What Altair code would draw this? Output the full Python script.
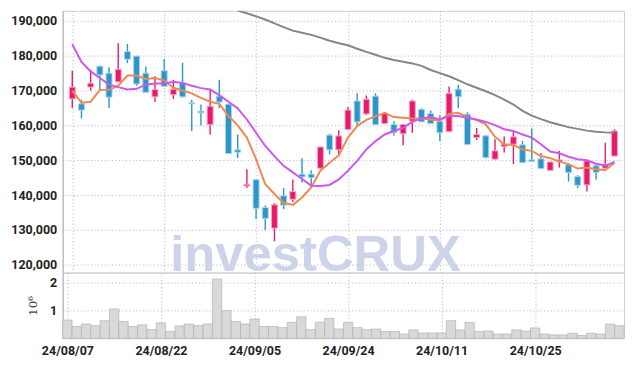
import altair as alt
import pandas as pd

# ---------------- data ----------------
dates = ["24/08/07", "24/08/08", "24/08/09", "24/08/12", "24/08/13", "24/08/14", "24/08/16", "24/08/19",
         "24/08/20", "24/08/21", "24/08/22", "24/08/23", "24/08/26", "24/08/27", "24/08/28", "24/08/29",
         "24/08/30", "24/09/02", "24/09/03", "24/09/04", "24/09/05", "24/09/06", "24/09/09", "24/09/10",
         "24/09/11", "24/09/12", "24/09/13", "24/09/19", "24/09/20", "24/09/23", "24/09/24", "24/09/25",
         "24/09/26", "24/09/27", "24/09/30", "24/10/02", "24/10/04", "24/10/07", "24/10/08", "24/10/10",
         "24/10/11", "24/10/14", "24/10/15", "24/10/16", "24/10/17", "24/10/18", "24/10/21", "24/10/22",
         "24/10/23", "24/10/24", "24/10/25", "24/10/28", "24/10/29", "24/10/30", "24/10/31", "24/11/01",
         "24/11/04", "24/11/05", "24/11/06", "24/11/07"]

opens = [167600, 166200, 171000, 177000, 175000, 172500, 181200, 179900, 175000, 168200,
         175700, 168800, 172200, 166500, 164100, 160200, 168400, 166100, 153000, 142600,
         144400, 136400, 130500, 139800, 138800, 146000, 146000, 147700, 157200, 153000,
         158800, 167000, 163300, 168400, 160500, 160300, 157600, 161200, 164600, 163400,
         161200, 158200, 170400, 163200, 156500, 157000, 150300, 153900, 154600, 154400,
         150100, 150400, 147100, 149500, 148700, 145300, 142900, 148400, 147700, 151200]
highs = [175700, 167400, 176000, 177100, 176700, 183600, 183400, 180000, 176900, 174100,
         179100, 173100, 178000, 167400, 166000, 170500, 173100, 166200, 157400, 147400,
         144400, 137000, 137700, 142000, 144500, 150600, 147100, 153900, 157600, 158600,
         165300, 169200, 168600, 169200, 163800, 161200, 160300, 167400, 164900, 164300,
         162900, 171200, 171700, 163800, 159300, 157200, 156000, 156800, 158700, 155500,
         159100, 152100, 149600, 152700, 149200, 145700, 149900, 149100, 155000, 158900]
lows = [165000, 162000, 170000, 170000, 165000, 172400, 177900, 171400, 169500, 166700,
        171000, 167600, 168000, 158400, 160000, 157400, 165000, 151800, 150600, 142000,
        133100, 130000, 126700, 136000, 138000, 143600, 142400, 147400, 151700, 151700,
        158700, 160000, 163000, 160100, 160400, 157000, 154300, 157900, 161000, 160400,
        155500, 158100, 164900, 154400, 155800, 150500, 150200, 152200, 148900, 149300,
        149500, 147600, 147100, 147900, 143900, 142000, 141000, 144400, 147600, 151200]
closes = [171000, 164400, 172100, 174500, 168100, 176100, 179000, 171900, 169500, 170300,
          171200, 170400, 168200, 166200, 163600, 165500, 166700, 151900, 152300, 143100,
          136200, 133300, 137200, 137100, 141000, 145200, 145000, 153800, 153000, 157000,
          164400, 161000, 167500, 160200, 163400, 157900, 160300, 167000, 161000, 160500,
          157900, 169200, 168200, 154500, 157400, 150800, 152700, 154600, 156700, 149300,
          149600, 147600, 149500, 150100, 146500, 142800, 149800, 146500, 148900, 158400]
volumes = [650000, 420000, 510000, 450000, 630000, 1050000, 600000, 420000, 480000, 310000,
           550000, 240000, 440000, 510000, 450000, 510000, 2120000, 990000, 600000, 510000,
           690000, 420000, 420000, 380000, 570000, 770000, 310000, 570000, 710000, 330000,
           570000, 380000, 310000, 330000, 240000, 240000, 150000, 300000, 190000, 190000,
           190000, 630000, 300000, 570000, 240000, 260000, 150000, 150000, 300000, 260000,
           370000, 150000, 120000, 120000, 180000, 100000, 180000, 150000, 510000, 450000]
ma5 = [170000, 166500, 166800, 170200, 170200, 171400, 174300, 174300, 173300, 173600,
       172900, 170800, 170000, 169200, 167900, 166800, 166200, 162700, 160000, 156500,
       150300, 143100, 140300, 137700, 137200, 139300, 142200, 147000, 149300, 151400,
       156500, 159800, 161600, 162600, 163600, 162400, 162200, 162000, 162000, 161700,
       161400, 163300, 163600, 162400, 161500, 160300, 156700, 154600, 154400, 153100,
       152700, 151200, 150600, 149600, 148900, 147600, 147900, 147400, 147100, 149300]
ma20 = [183300, 178200, 175500, 173600, 171700, 171000, 170300, 170500, 171700, 172000,
        172000, 172500, 172200, 171400, 170700, 170300, 168700, 166800, 164900, 161700,
        157900, 154100, 151200, 148400, 146500, 144600, 142700, 142600, 142900, 144500,
        147000, 149800, 153100, 155500, 157400, 158400, 159300, 161000, 162000, 162400,
        161700, 162700, 162700, 162200, 161700, 161000, 160100, 158900, 158400, 157400,
        156500, 154600, 152500, 152000, 151000, 150300, 150000, 149000, 148400, 149500]
ma60 = [None] * 18 + [
        192950, 192200, 191300, 190400, 189300, 188200, 187200, 186600, 186000,
        185200, 184300, 183600, 183000, 182000, 181100, 180300, 179400, 178800, 178300,
        177800, 177100, 175900, 175000, 174100, 173000, 171800, 170800, 169800, 168700,
        167400, 166000, 164200, 162800, 161800, 160900, 160200, 159500, 159000, 158500,
        158200, 158000, 157900]
price_ticks = [120000, 130000, 140000, 150000, 160000, 170000, 180000, 190000]
volume_ticks = [1000000, 2000000]
label_idx = [0, 10, 20, 30, 40, 50]
watermark = ["investCRUX"]

# ---------------- chart ----------------
n = len(dates)
df = pd.DataFrame({"i": list(range(n)), "date": dates, "open": opens, "high": highs, "low": lows,
                   "close": closes, "volume": volumes, "ma5": ma5, "ma20": ma20, "ma60": ma60})

FONT = "Roboto"
LSIZE = 12.5
LCOL = "#222222"
PINK = "#e61b6c"
BLUE = "#2c96c8"
GRID = "#a9b0cc"
GDASH = [1, 2.5]
W = 564
H_PRICE = 263
H_VOL = 66

label_expr = " : ".join(f"datum.value == {k} ? '{dates[k]}'" for k in label_idx) + " : ''"

xscale = alt.Scale(domain=[-0.5, n - 0.5], nice=False, zero=False)
x_axis_price = alt.Axis(values=label_idx, labels=False, ticks=False, domain=False, grid=True,
                        gridDash=GDASH, gridColor=GRID, title=None)
yscale = alt.Scale(domain=[117750, 192900], nice=False, zero=False)
y_axis = alt.Axis(values=price_ticks, format=",d", labelFont=FONT, labelFontSize=LSIZE,
                  labelFontWeight="bold", labelColor=LCOL, ticks=False, labelPadding=6,
                  labelOverlap=False, grid=True, gridDash=GDASH, gridColor=GRID,
                  domainColor="#b0b0b0", title=None)


def X():
    return alt.X("i:Q", scale=xscale, axis=x_axis_price)


def Y(field):
    return alt.Y(field, type="quantitative", scale=yscale, axis=y_axis)


is_up = "datum.close >= datum.open"
col = alt.condition(is_up, alt.value(PINK), alt.value(BLUE))
halo = alt.condition(is_up, alt.value("#f6a9c8"), alt.value("#a9d4ea"))

base = alt.Chart(df)

wm = alt.Chart(pd.DataFrame({"t": watermark})).mark_text(
    font="Liberation Sans", fontSize=51, fontWeight="bold", color="#cdd3e8",
    align="center", baseline="alphabetic"
).encode(x=alt.value(254), y=alt.value(261), text="t:N")

wick = base.mark_rule(strokeWidth=1.4).encode(x=X(), y=Y("low"), y2="high:Q", color=col)
body = base.mark_bar(size=6, strokeWidth=1).encode(
    x=X(), y=Y("open"), y2="close:Q", color=col, stroke=halo)
l5 = base.mark_line(color="#ee8a50", strokeWidth=2, clip=True).encode(x=X(), y=Y("ma5"))
l20 = base.mark_line(color="#cc58ee", strokeWidth=2, clip=True).encode(x=X(), y=Y("ma20"))
l60 = base.transform_filter("datum.ma60 != null").mark_line(
    color="#858585", strokeWidth=2, clip=True).encode(x=X(), y=Y("ma60"))

price = alt.layer(wm, wick, body, l5, l20, l60).properties(width=W, height=H_PRICE)

vol = base.transform_calculate(x0="datum.i - 0.5", x1="datum.i + 0.5").mark_bar(
    fill="#d9d9d9", stroke="#ababab", strokeWidth=0.6
).encode(
    x=alt.X("x0:Q", scale=xscale,
            axis=alt.Axis(values=label_idx, labelExpr=label_expr, labelFont=FONT, labelFontSize=LSIZE,
                          labelFontWeight="bold", labelColor=LCOL, ticks=False, domain=False,
                          labelOverlap=False, grid=True, gridDash=GDASH, gridColor=GRID,
                          labelPadding=6, title=None)),
    x2="x1:Q",
    y=alt.Y("volume:Q", scale=alt.Scale(domain=[0, 2350000], nice=False),
            axis=alt.Axis(values=volume_ticks, labelExpr="datum.value / 1000000", labelFont=FONT,
                          labelFontSize=LSIZE, labelFontWeight="bold", labelColor=LCOL,
                          ticks=False, labelPadding=6, labelOverlap=False, grid=True,
                          gridDash=GDASH, gridColor=GRID, domainColor="#b0b0b0", title="10⁶",
                          titleFont="DejaVu Serif", titleFontWeight="normal", titleFontSize=12,
                          titleColor="#444", titlePadding=10)),
    y2=alt.datum(0),
).properties(width=W, height=H_VOL)

chart = alt.vconcat(price, vol, spacing=0, bounds="flush").properties(
    padding={"left": 10, "top": 9, "right": 9, "bottom": 5},
).configure_view(stroke="#cfcfcf")

chart.save("out.html", embed_options={"renderer": "svg", "actions": False})
